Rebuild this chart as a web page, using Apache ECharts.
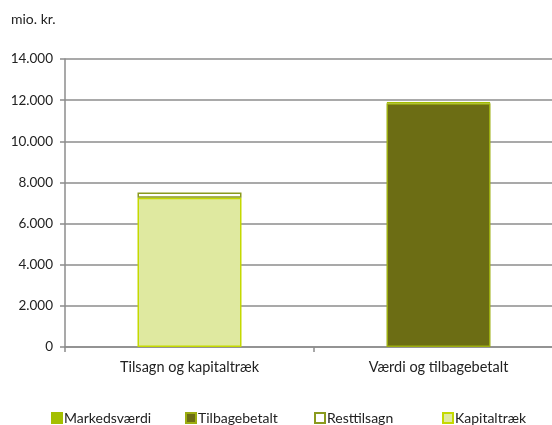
<!DOCTYPE html>
<html>
<head>
<meta charset="utf-8">
<script src="https://cdn.jsdelivr.net/npm/echarts@6/dist/echarts.min.js"></script>
<style>
	html, body { margin: 0; padding: 0; background: #fff; }
	#chart { width: 552px; height: 425px; }
</style>
</head>
<body>
<div id="chart"></div>
<script>
	// data (mio. kr.)
	var categories = [ "Tilsagn og kapitaltræk", "Værdi og tilbagebetalt" ];
	var kapitaltraek = [ 7250, null ];
	var resttilsagn = [ 260, null ];
	var tilbagebetalt = [ null, 11850 ];
	var markedsvaerdi = [ null, 60 ];
	var legendNames = [ "Markedsværdi", "Tilbagebetalt", "Resttilsagn", "Kapitaltræk" ];

	var FONT = "Lato, 'Open Sans', sans-serif";
	var GRID_COLOR = "#8c8c8c";

	var fmt = function( v ){
		return String( v ).replace( /\B(?=(\d{3})+(?!\d))/g, "." );
	};

	// one legend per item so each sits where the original has it
	var legendLeft = [ 46, 180, 309, 437 ];
	var legends = legendNames.map( function( nm, i ){
		return {
			left : legendLeft[ i ],
			top : 406,
			itemWidth : 10,
			itemHeight : 10,
			icon : "rect",
			data : [ nm ],
			textStyle : { fontFamily : FONT, fontSize : 14, color : "#222", padding : [ 0, 0, 0, -3 ] }
		};
	});

	var myChart = echarts.init( document.getElementById( "chart" ) );

	var option = {
		animation : false,
		graphic : [
			{ type : "text", left : 11, top : 12, style : { text : "mio. kr.", font : "14px " + FONT, fill : "#222" } }
		],
		grid : { left : 65, top : 59, right : -11, bottom : 78, outerBoundsMode : "none", containLabel : false },
		legend : legends,
		xAxis : {
			type : "category",
			data : categories,
			axisLine : { lineStyle : { color : GRID_COLOR, width : 1.5 } },
			axisTick : { show : true, length : 5, lineStyle : { color : GRID_COLOR, width : 1.5 } },
			axisLabel : { margin : 13, fontFamily : FONT, fontSize : 14.5, color : "#222" }
		},
		yAxis : {
			type : "value",
			min : 0,
			max : 14000,
			interval : 2000,
			axisLine : { show : true, lineStyle : { color : GRID_COLOR, width : 1.5 } },
			axisTick : { show : true, length : 5, lineStyle : { color : GRID_COLOR, width : 1.5 } },
			splitLine : { lineStyle : { color : GRID_COLOR, width : 1.5 } },
			axisLabel : { margin : 12, fontFamily : FONT, fontSize : 13.5, color : "#222", formatter : fmt }
		},
		series : [
			{
				name : "Kapitaltræk", type : "bar", stack : "s", barWidth : 104, data : kapitaltraek,
				itemStyle : { color : "#dfe9a0", borderColor : "#c4d900", borderWidth : 1.5 }
			},
			{
				name : "Tilbagebetalt", type : "bar", stack : "s", barWidth : 104, data : tilbagebetalt,
				itemStyle : { color : "#6c6d14", borderColor : "#9cad10", borderWidth : 1.5 }
			},
			{
				name : "Resttilsagn", type : "bar", stack : "s", barWidth : 104, data : resttilsagn,
				itemStyle : { color : "#ffffff", borderColor : "#8a9a1e", borderWidth : 1.5 }
			},
			{
				name : "Markedsværdi", type : "bar", stack : "s", barWidth : 104, data : markedsvaerdi,
				itemStyle : { color : "#a4bf00", borderColor : "#a4bf00", borderWidth : 1 }
			}
		]
	};

	myChart.setOption( option, true );
	window.addEventListener( "resize", function(){ myChart.resize(); } );
</script>
</body>
</html>
